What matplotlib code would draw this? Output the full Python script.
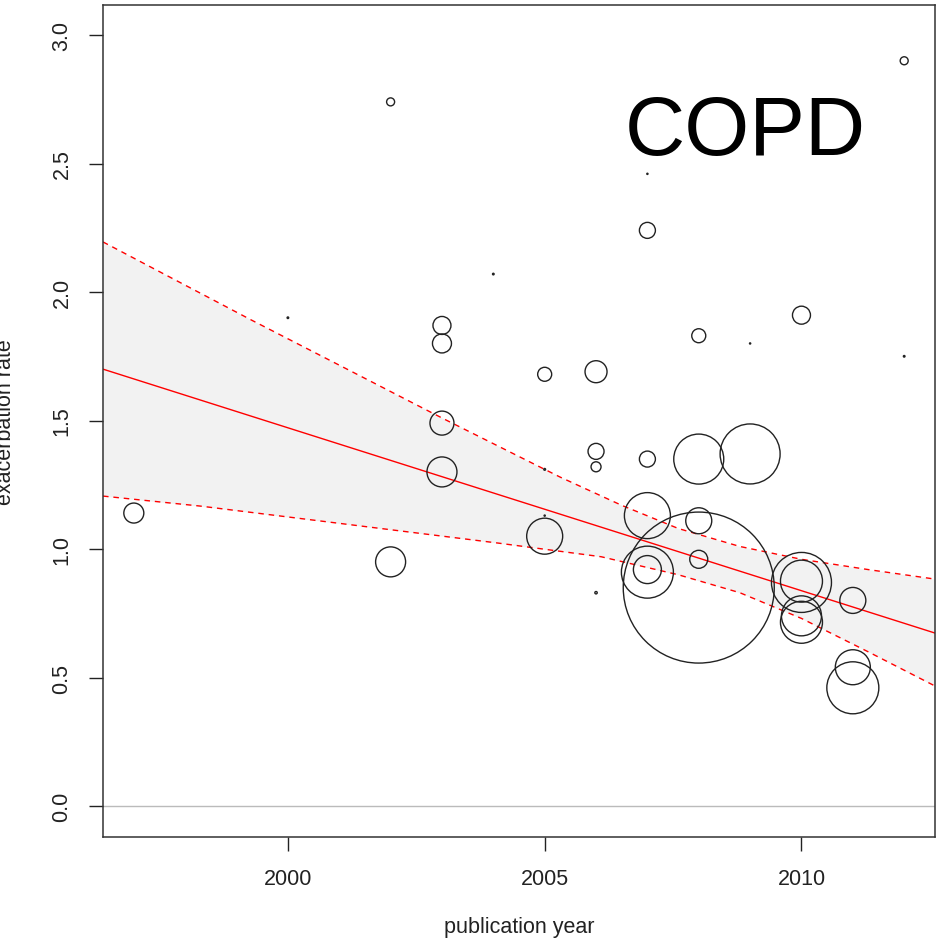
import numpy as np
import matplotlib
matplotlib.use("Agg")
import matplotlib.pyplot as plt

plt.rcParams['font.family'] = ['Liberation Sans', 'DejaVu Sans']

# studies: publication year, exacerbation rate, bubble radius (weight, px)
year = [1997, 2000, 2002, 2002, 2003, 2003, 2003, 2003, 2004, 2005,
        2005, 2005, 2005, 2006, 2006, 2006, 2006, 2007, 2007, 2007,
        2007, 2007, 2007, 2008, 2008, 2008, 2008, 2008, 2009, 2009,
        2010, 2010, 2010, 2010, 2010, 2011, 2011, 2011, 2012, 2012]
rate = [1.14, 1.90, 2.74, 0.95, 1.87, 1.80, 1.49, 1.30, 2.07, 1.68,
        1.05, 1.31, 1.13, 1.69, 1.38, 1.32, 0.83, 2.46, 2.24, 1.35,
        1.13, 0.91, 0.92, 1.83, 1.35, 1.11, 0.96, 0.85, 1.37, 1.80,
        1.91, 0.87, 0.875, 0.74, 0.715, 0.80, 0.54, 0.46, 2.90, 1.75]
weight = [10, 0.8, 4, 15, 9, 9.5, 12, 15, 0.8, 7,
          18, 0.9, 0.6, 11, 8, 5, 1.2, 0.6, 8, 8,
          23, 26, 14, 7, 25, 13, 9, 75.5, 30, 0.6,
          9, 30, 21, 20, 21, 13, 17.5, 26, 4, 0.8]

# regression line end points
fit_x = [1996.4, 2012.6]
fit_y = [1.70, 0.673]

# confidence band
hi_x = [1996.4, 1999.3, 2001.2, 2003.0, 2004.1, 2005.3, 2006.5, 2007.6,
        2008.8, 2010.0, 2011.3, 2012.6]
hi_y = [2.195, 1.89, 1.695, 1.51, 1.40, 1.28, 1.17, 1.08,
        1.01, 0.96, 0.92, 0.883]
lo_x = [1996.4, 1998.3, 2001.0, 2004.1, 2006.1, 2007.6, 2008.8, 2010.0,
        2011.3, 2012.6]
lo_y = [1.206, 1.167, 1.10, 1.023, 0.97, 0.90, 0.83, 0.73,
        0.60, 0.467]

W, H = 942, 945
fig = plt.figure(figsize=(W / 100, H / 100), dpi=100)
ax = fig.add_axes([103 / W, 1 - 838 / H, (935 - 103) / W, (838 - 6) / H])

gx = np.union1d(hi_x, lo_x)
ax.fill_between(gx, np.interp(gx, lo_x, lo_y), np.interp(gx, hi_x, hi_y),
                color='#f2f2f2', lw=0, zorder=1)
ax.axhline(0, color='#bbbbbb', lw=1.0, zorder=1)
ax.plot(fit_x, fit_y, color='red', lw=1.0, zorder=2)
ax.plot(hi_x, hi_y, color='red', lw=1.0, ls=(0, (4, 3.5)), zorder=2)
ax.plot(lo_x, lo_y, color='red', lw=1.0, ls=(0, (4, 3.5)), zorder=2)

sizes = [(2 * r * 0.72) ** 2 for r in weight]
ax.scatter(year, rate, s=sizes, facecolors='none', edgecolors='#222222',
           linewidths=1.0, zorder=3)

ax.set_xlim(1996.4, 2012.6)
ax.set_ylim(-0.1206, 3.117)
ax.set_xticks([2000, 2005, 2010])
ax.set_yticks([0.0, 0.5, 1.0, 1.5, 2.0, 2.5, 3.0])
ax.set_yticklabels(['0.0', '0.5', '1.0', '1.5', '2.0', '2.5', '3.0'],
                   rotation=90, va='center')
ax.tick_params(axis='both', length=10, width=1.0, color='#222222',
               labelsize=15.5, labelcolor='#222222', pad=12)
for sp in ax.spines.values():
    sp.set_color('#333333')
    sp.set_linewidth(1.1)

ax.text(0.7716, 0.8209, 'COPD', transform=ax.transAxes, ha='center',
        va='baseline', fontsize=60, color='black')

fig.text(519 / W, 1 - 928 / H, 'publication year', ha='center', va='center',
         fontsize=15.5, color='#222222')
fig.text(16 / W, 1 - 422 / H, 'exacerbation rate', ha='right', va='center',
         rotation=90, fontsize=15.5, color='#222222')

fig.savefig('out.png', dpi=100)
